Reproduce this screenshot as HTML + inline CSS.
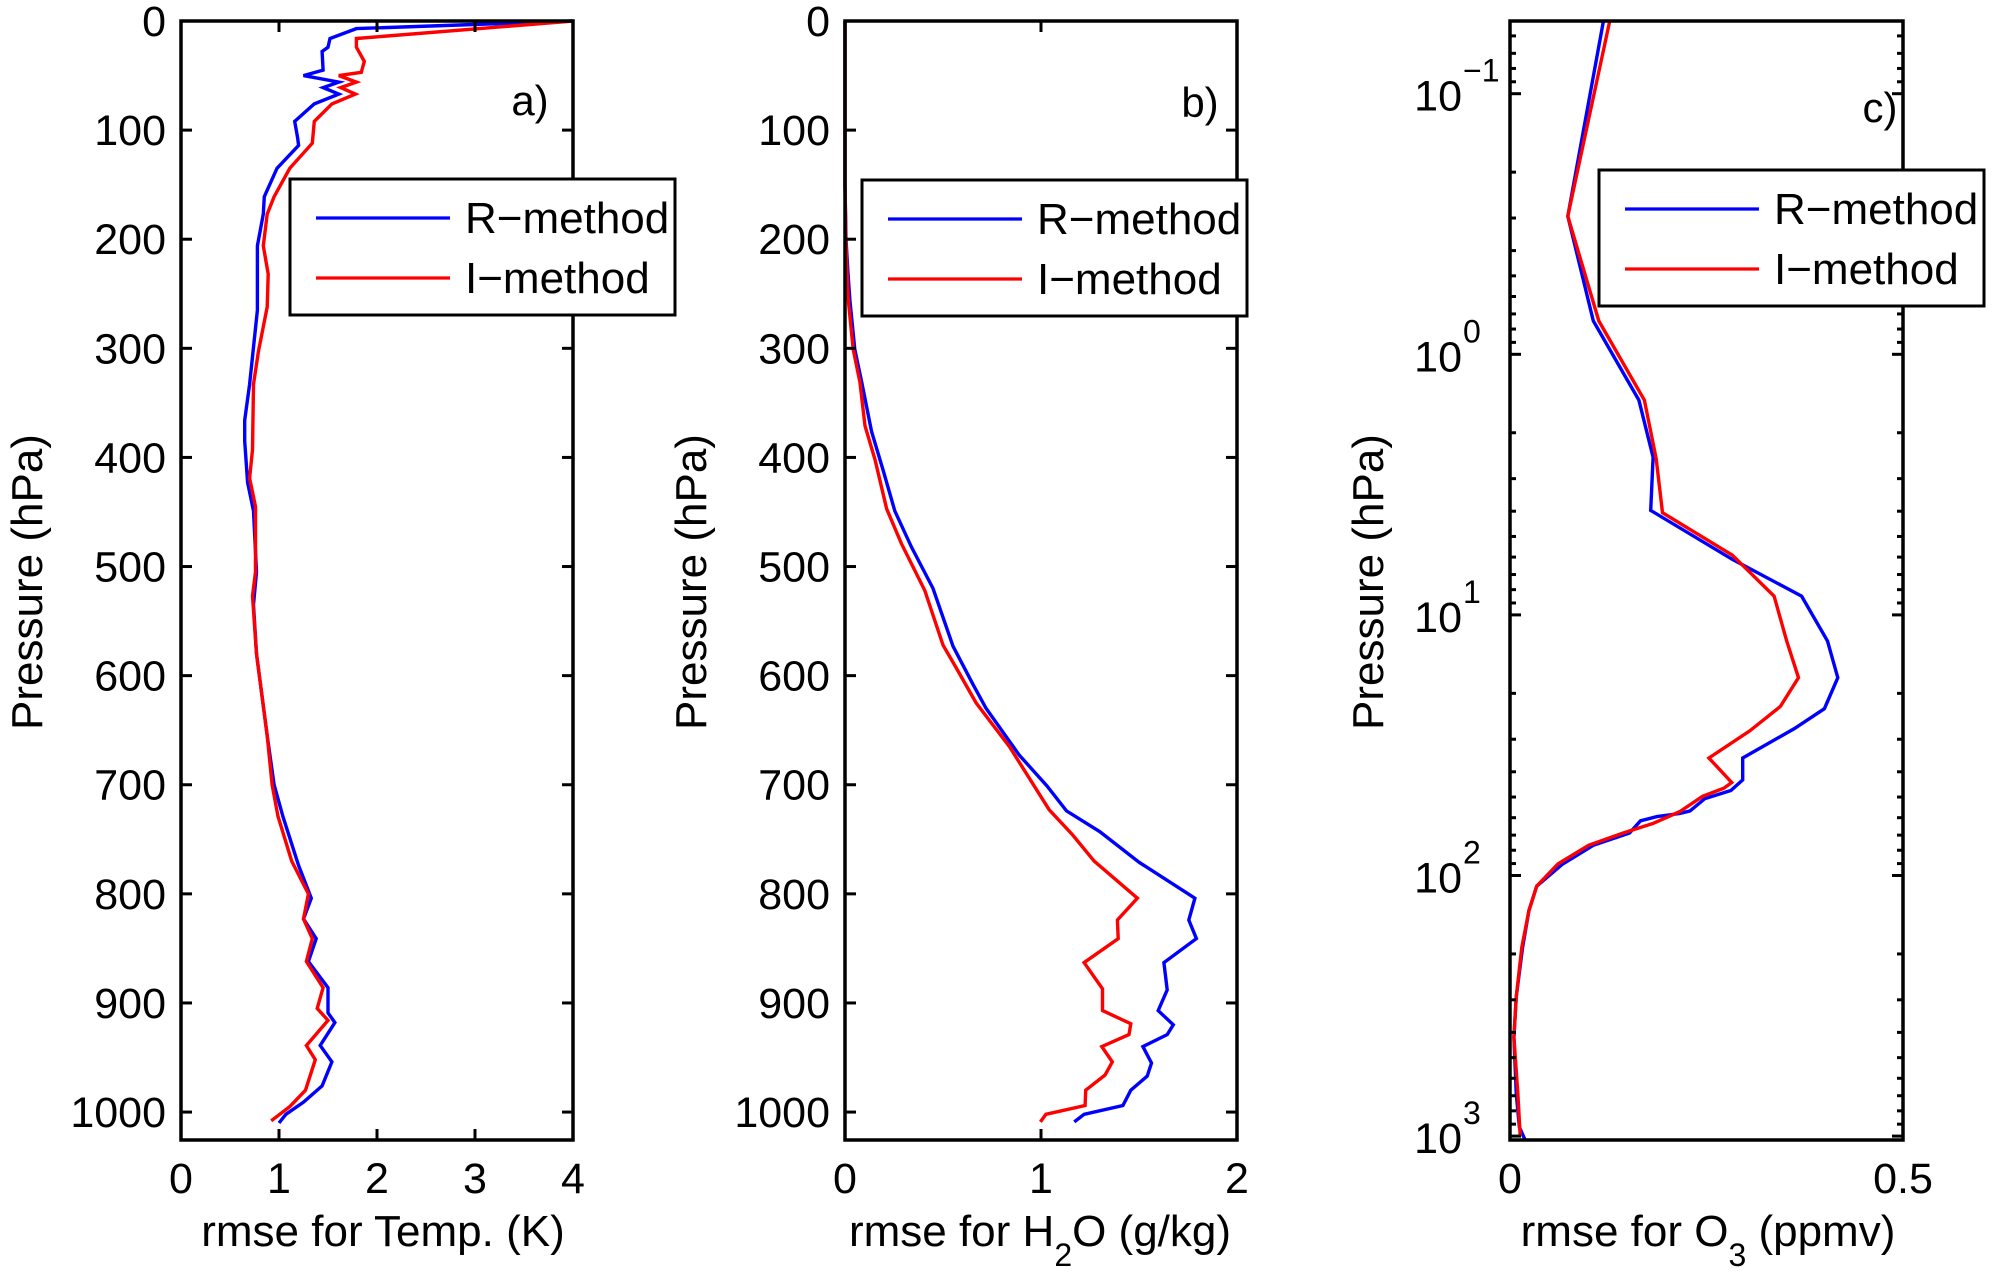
<!DOCTYPE html>
<html><head><meta charset="utf-8"><style>
html,body{margin:0;padding:0;background:#fff;}
svg{display:block;font-family:"Liberation Sans",Arial,sans-serif;}
</style></head><body>
<svg id="fig" width="2006" height="1281" viewBox="0 0 2006 1281" xmlns="http://www.w3.org/2000/svg">
<rect x="0" y="0" width="2006" height="1281" fill="#fff"/>
</svg>
<script>
// ---- Panel a: temperature rmse (K) vs pressure (hPa)
const tempP_R=[0,7,16,24,28,45,50,56,61,67,76,92,107,114,135,161,177,206,265,333,366,385,423,449,505,535,580,655,700,729,774,804,823,841,862,886,909,918,939,954,976,991,1002,1010];
const tempR=[4,1.79,1.52,1.5,1.44,1.45,1.25,1.61,1.45,1.61,1.36,1.16,1.19,1.2,0.98,0.85,0.84,0.78,0.78,0.70,0.65,0.65,0.68,0.74,0.77,0.74,0.77,0.88,0.95,1.04,1.2,1.33,1.25,1.38,1.3,1.5,1.5,1.57,1.42,1.54,1.44,1.25,1.07,1.0];
const tempP_I=[0,16,24,37,47,50,56,61,67,76,92,112,135,161,177,206,232,262,303,333,393,419,445,505,527,580,655,700,729,770,800,823,841,862,886,905,916,939,952,980,995,1008];
const tempI=[4,1.79,1.79,1.87,1.84,1.61,1.79,1.63,1.78,1.54,1.36,1.34,1.11,0.95,0.88,0.84,0.89,0.88,0.79,0.74,0.73,0.70,0.76,0.76,0.73,0.77,0.88,0.93,0.99,1.13,1.30,1.25,1.34,1.28,1.45,1.39,1.5,1.28,1.37,1.27,1.11,0.92];
// ---- Panel b: H2O rmse (g/kg)
const h2oP_R=[0,150,200,230,256,301,331,376,412,449,482,520,573,608,630,673,701,724,743,771,804,824,841,863,888,907,920,929,940,955,967,980,994,1002,1009];
const h2oR=[0,0,0.005,0.015,0.025,0.05,0.085,0.135,0.195,0.254,0.339,0.449,0.551,0.653,0.72,0.89,1.03,1.13,1.30,1.50,1.785,1.754,1.793,1.627,1.644,1.598,1.675,1.644,1.52,1.564,1.542,1.458,1.418,1.22,1.17];
const h2oP_I=[0,150,200,230,256,301,331,371,402,447,479,522,572,593,625,665,723,746,770,804,824,841,863,887,907,919,929,940,954,966,980,994,1002,1009];
const h2oI=[0,0,0.004,0.01,0.017,0.042,0.076,0.102,0.153,0.212,0.288,0.407,0.5,0.568,0.669,0.839,1.042,1.161,1.271,1.492,1.39,1.394,1.22,1.314,1.314,1.458,1.449,1.31,1.364,1.327,1.228,1.225,1.025,0.997];
// ---- Panel c: O3 rmse (ppmv), log10 pressure
const o3LogP_R=[-1.28,-0.53,-0.128,0.176,0.395,0.599,0.787,0.928,1.1,1.241,1.36,1.436,1.549,1.633,1.674,1.705,1.752,1.762,1.774,1.79,1.837,1.884,1.956,2.041,2.135,2.276,2.464,2.621,2.84,2.966,3.013];
const o3R=[0.119,0.0735,0.106,0.164,0.182,0.179,0.283,0.371,0.404,0.417,0.4,0.362,0.296,0.296,0.281,0.248,0.229,0.216,0.187,0.166,0.152,0.106,0.067,0.034,0.024,0.016,0.008,0.005,0.008,0.012,0.019];
const o3LogP_I=[-1.28,-0.53,-0.128,0.176,0.401,0.608,0.771,0.928,1.1,1.241,1.351,1.445,1.549,1.643,1.665,1.696,1.755,1.8,1.837,1.884,1.956,2.041,2.135,2.276,2.464,2.621,2.84,3.0];
const o3I=[0.127,0.0735,0.113,0.171,0.186,0.194,0.283,0.336,0.352,0.367,0.344,0.305,0.253,0.282,0.272,0.245,0.216,0.182,0.144,0.1,0.061,0.034,0.024,0.015,0.008,0.005,0.01,0.013];
const ticksLinP=[0,100,200,300,400,500,600,700,800,900,1000];
const ticksTemp=[0,1,2,3,4];
const ticksH2O=[0,1,2];
const ticksO3=[0,0.5];
const ticksLogP=[-1,0,1,2,3];

const NS='http://www.w3.org/2000/svg';
const svg=document.getElementById('fig');
function mk(tag,attrs,parent){const e=document.createElementNS(NS,tag);for(const k in attrs)e.setAttribute(k,attrs[k]);(parent||svg).appendChild(e);return e;}
const TOP=21,BOT=1140,FS=43,LFS=44;

function panel(id,x0,x1,xmin,xmax,ymin,ymax){
  const g=mk('g',{});
  
  
  const sx=v=>x0+(v-xmin)/(xmax-xmin)*(x1-x0);
  const sy=v=>TOP+(v-ymin)/(ymax-ymin)*(BOT-TOP);
  return {g,sx,sy,x0,x1};
}
function frame(P){
  const r=mk('rect',{x:P.x0,y:TOP,width:P.x1-P.x0,height:BOT-TOP,fill:'none',stroke:'#000','stroke-width':3.5},P.g);
  
  
}
function line(P,xs,ys,color,name){
  const pts=xs.map((v,i)=>P.sx(v).toFixed(1)+','+P.sy(ys[i]).toFixed(1)).join(' ');
  const pl=mk('polyline',{points:pts,fill:'none',stroke:color,'stroke-width':3.4,'stroke-linejoin':'miter'},P.g);
  
  
}
function xticks(P,vals,name){
  vals.forEach(v=>{
    const x=P.sx(v);
    mk('line',{x1:x,y1:BOT,x2:x,y2:BOT-11,stroke:'#000','stroke-width':3},P.g);
    mk('line',{x1:x,y1:TOP,x2:x,y2:TOP+11,stroke:'#000','stroke-width':3},P.g);
    const t=mk('text',{x:x,y:1193,'font-size':FS,'text-anchor':'middle'},P.g);
    t.textContent=String(v);
    
    
  });
}
function yticksLin(P,vals,name){
  vals.forEach(v=>{
    const y=P.sy(v);
    mk('line',{x1:P.x0,y1:y,x2:P.x0+11,y2:y,stroke:'#000','stroke-width':3},P.g);
    mk('line',{x1:P.x1,y1:y,x2:P.x1-11,y2:y,stroke:'#000','stroke-width':3},P.g);
    const t=mk('text',{x:P.x0-15,y:y+15,'font-size':FS,'text-anchor':'end'},P.g);
    t.textContent=String(v);
    
    
  });
}
function yticksLog(P,vals,name){
  vals.forEach(v=>{
    const y=P.sy(v);
    mk('line',{x1:P.x0,y1:y,x2:P.x0+11,y2:y,stroke:'#000','stroke-width':3},P.g);
    mk('line',{x1:P.x1,y1:y,x2:P.x1-11,y2:y,stroke:'#000','stroke-width':3},P.g);
    const t=mk('text',{x:P.x0-48,y:y+17,'font-size':FS,'text-anchor':'end'},P.g);
    t.textContent='10';
    
    
    const s=mk('text',{x:P.x0-47,y:y-12,'font-size':32,'text-anchor':'start'},P.g);
    s.textContent=(v<0?'\u2212':'')+Math.abs(v);
    
    
  });
  for(let d=-2;d<=3;d++){for(let m=2;m<=9;m++){const lv=d+Math.log10(m);
    if(lv< -1.279||lv>3.015)continue;const y=P.sy(lv);
    mk('line',{x1:P.x0,y1:y,x2:P.x0+6,y2:y,stroke:'#000','stroke-width':3},P.g);
    mk('line',{x1:P.x1,y1:y,x2:P.x1-6,y2:y,stroke:'#000','stroke-width':3},P.g);}}
}
function label(P,text,sub,rest,cx,id){
  const t=mk('text',{x:cx,y:1246,'font-size':LFS,'text-anchor':'middle'},P.g);
  
  
  t.appendChild(document.createTextNode(text));
  if(sub){const ts=mk('tspan',{'font-size':32,dy:20},t);ts.textContent=sub;
    const tr=mk('tspan',{dy:-20},t);tr.textContent=rest;}
}
function ylabel(P,cx,id){
  const t=mk('text',{x:0,y:0,'font-size':LFS,'text-anchor':'middle',transform:'translate('+cx+',582) rotate(-90)'},P.g);
  t.textContent='Pressure (hPa)';
  
  
}
function legend(P,x,y,id){
  const g=mk('g',{},P.g);
  
  
  mk('rect',{x:x,y:y,width:385,height:136,fill:'#fff',stroke:'#000','stroke-width':3},g);
  [['R\u2212method','#0000ff',39],['I\u2212method','#ff0000',99]].forEach(([txt,c,dy],i)=>{
    const l=mk('line',{x1:x+26,y1:y+dy,x2:x+160,y2:y+dy,stroke:c,'stroke-width':3.2},g);
    
    
    const t=mk('text',{x:x+175,y:y+dy+15,'font-size':LFS},g);
    t.textContent=txt;
    
    
  });
}
function tag(P,x,y,s,id){const t=mk('text',{x:x,y:y,'font-size':42,'text-anchor':'middle'},P.g);t.textContent=s;
  }

// Panel a
const A=panel('a',181,573,0,4,0,1025.6);
line(A,tempR,tempP_R,'#0000ff','temp-r-method-line');
line(A,tempI,tempP_I,'#ff0000','temp-i-method-line');
xticks(A,ticksTemp,'temp-x');yticksLin(A,ticksLinP,'temp-y');frame(A);
label(A,'rmse for Temp. (K)','','',383,'temp');ylabel(A,42,'temp');
tag(A,530,115,'a)','a');legend(A,290,179,'temp');
// Panel b
const B=panel('b',845,1237,0,2,0,1025.6);
line(B,h2oR,h2oP_R,'#0000ff','h2o-r-method-line');
line(B,h2oI,h2oP_I,'#ff0000','h2o-i-method-line');
xticks(B,ticksH2O,'h2o-x');yticksLin(B,ticksLinP,'h2o-y');frame(B);
label(B,'rmse for H','2','O (g/kg)',1040,'h2o');ylabel(B,706,'h2o');
tag(B,1200,117,'b)','b');legend(B,862,180,'h2o');
// Panel c
const C=panel('c',1510,1903,0,0.5,-1.279,3.015);
line(C,o3R,o3LogP_R,'#0000ff','o3-r-method-line');
line(C,o3I,o3LogP_I,'#ff0000','o3-i-method-line');
xticks(C,ticksO3,'o3-x');yticksLog(C,ticksLogP,'o3-y');frame(C);
label(C,'rmse for O','3',' (ppmv)',1708,'o3');ylabel(C,1383,'o3');
tag(C,1880,122,'c)','c');legend(C,1599,170,'o3');
</script>
</body></html>
